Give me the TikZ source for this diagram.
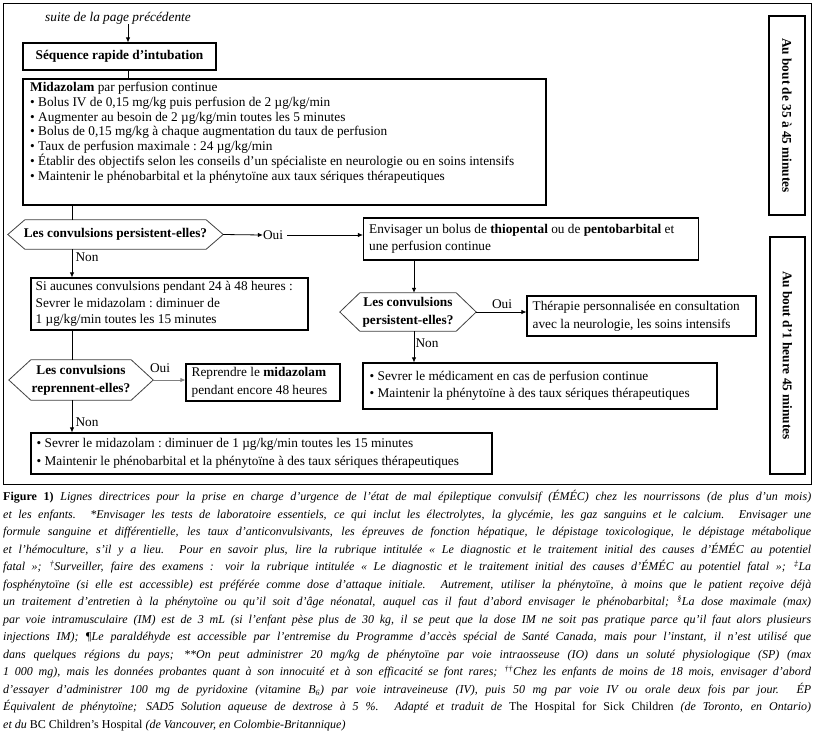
\documentclass[tikz,border=0pt]{standalone}
\usepackage{fontspec}
\setmainfont{Liberation Serif}
\usetikzlibrary{arrows.meta,calc}
\newcommand{\dgfont}[1]{\fontsize{13.3}{#1}\selectfont}
\newcommand{\hexdraw}[2]{\draw[hexline] (#1.west) -- ([xshift=#2]#1.north west) -- ([xshift=-#2]#1.north east) -- (#1.east) -- ([xshift=-#2]#1.south east) -- ([xshift=#2]#1.south west) -- cycle;}
\newcommand{\capline}[1]{\makebox[808pt][s]{#1}}
\begin{document}
\frenchspacing
\begin{tikzpicture}[x=1pt,y=-1pt,
  frame/.style={draw=black, line width=1.1pt, inner sep=0pt},
  txt/.style={inner sep=0pt, align=left, anchor=west},
  hexnode/.style={inner sep=0pt, align=center, font=\dgfont{18}\bfseries},
  hexline/.style={draw=black!75, line width=0.8pt},
  lbl/.style={inner sep=0pt, font=\dgfont{16}},
  ln/.style={draw=black, line width=0.8pt},
  arr/.style={ln, -{Latex[length=5pt,width=4.5pt]}},
  garr/.style={arr, draw=black!50}
]
\path[use as bounding box] (0,0) rectangle (816,740);
\draw[line width=1pt] (3,3) rectangle (811,484);

\coordinate (ax) at (128,0);
\coordinate (vx) at (72,0);
\coordinate (rx) at (414,0);

\node[inner sep=0pt, font=\dgfont{16}\itshape] (suite) at (118,18) {suite de la page précédente};
\node[frame, minimum width=193pt, minimum height=27pt, font=\dgfont{16}\bfseries] (seq) at (119.5,56.5) {Séquence rapide d’intubation};

\node[frame, minimum width=523pt, minimum height=126pt] (mid) at (284.5,142) {};
\node[txt, anchor=north west, font=\dgfont{14.8}] (midtxt) at (30,82) {\textbf{Midazolam} par perfusion continue\\
• Bolus IV de 0,15 mg/kg puis perfusion de 2 µg/kg/min\\
• Augmenter au besoin de 2 µg/kg/min toutes les 5 minutes\\
• Bolus de 0,15 mg/kg à chaque augmentation du taux de perfusion\\
• Taux de perfusion maximale : 24 µg/kg/min\\
• Établir des objectifs selon les conseils d’un spécialiste en neurologie ou en soins intensifs\\
• Maintenir le phénobarbital et la phénytoïne aux taux sériques thérapeutiques};

\node[hexnode, minimum width=215pt, minimum height=29pt] (h1) at (115.5,234.5) {Les convulsions persistent-elles?};
\hexdraw{h1}{17pt}
\node[lbl] (oui1) at (273,235) {Oui};
\node[lbl] (non1) at (87,257) {Non};

\node[frame, minimum width=335pt, minimum height=42pt] (env) at (531,239) {};
\node[txt, font=\dgfont{17}] (envt) at ([xshift=6pt]env.west) {Envisager un bolus de \textbf{thiopental} ou de \textbf{pentobarbital} et\\une perfusion continue};

\node[frame, minimum width=277pt, minimum height=52pt] (si) at (169.5,304) {};
\node[txt, font=\dgfont{16.5}] (sit) at ([xshift=5pt]si.west) {Si aucunes convulsions pendant 24 à 48 heures :\\Sevrer le midazolam : diminuer de\\1 µg/kg/min toutes les 15 minutes};

\node[hexnode, minimum width=144pt, minimum height=40pt] (h2) at (81,380) {Les convulsions\\reprennent-elles?};
\hexdraw{h2}{22pt}
\node[lbl] (oui2) at (160,368) {Oui};
\node[lbl] (non2) at (87,422) {Non};

\node[frame, minimum width=154pt, minimum height=37pt] (rep) at (263,382.5) {};
\node[txt, font=\dgfont{18}] (rept) at ([xshift=6pt]rep.west) {Reprendre le \textbf{midazolam}\\pendant encore 48 heures};

\node[frame, minimum width=461pt, minimum height=41pt] (final) at (261.5,453.5) {};
\node[txt, font=\dgfont{18}] (finalt) at ([xshift=6pt]final.west) {• Sevrer le midazolam : diminuer de 1 µg/kg/min toutes les 15 minutes\\• Maintenir le phénobarbital et la phénytoïne à des taux sériques thérapeutiques};

\node[hexnode, minimum width=136pt, minimum height=38pt] (h3) at (408,312) {Les convulsions\\persistent-elles?};
\hexdraw{h3}{20pt}
\node[lbl] (oui3) at (502,304) {Oui};
\node[lbl] (non3) at (427,343) {Non};

\node[frame, minimum width=229pt, minimum height=40pt] (ther) at (641.5,316) {};
\node[txt, font=\dgfont{18}] (thert) at ([xshift=6pt]ther.west) {Thérapie personnalisée en consultation\\avec la neurologie, les soins intensifs};

\node[frame, minimum width=354pt, minimum height=46pt] (sev) at (540,386) {};
\node[txt, font=\dgfont{17}] (sevt) at ([xshift=7pt]sev.west) {• Sevrer le médicament en cas de perfusion continue\\• Maintenir la phénytoïne à des taux sériques thérapeutiques};

\node[frame, minimum width=36pt, minimum height=199pt] (s1) at (787,115.5) {};
\node[rotate=-90, inner sep=0pt, font=\dgfont{16}\bfseries] (s1t) at (s1.center) {Au bout de 35 à 45 minutes};
\node[frame, minimum width=35pt, minimum height=237pt] (s2) at (787.5,355.5) {};
\node[rotate=-90, inner sep=0pt, font=\dgfont{16}\bfseries] (s2t) at (s2.center) {Au bout d’1 heure 45 minutes};

% connectors
\draw[arr] (suite.south -| ax) -- (seq.north -| ax);
\draw[ln] (seq.south -| ax) -- (mid.north -| ax);
\draw[ln] (mid.south -| vx) -- (h1.north -| vx);
\draw[arr] (h1.east) -- (oui1.west);
\draw[arr] ([xshift=4pt]oui1.east) -- (oui1.east -| env.west);
\draw[arr] (h1.south -| vx) -- (si.north -| vx);
\draw[ln] (si.south -| vx) -- (h2.north -| vx);
\draw[garr] (h2.east) -- (h2.east -| rep.west);
\draw[arr] (h2.south -| vx) -- (final.north -| vx);
\draw[arr] (env.south -| rx) -- (h3.north -| rx);
\draw[arr] (h3.east) -- (h3.east -| ther.west);
\draw[arr] (h3.south -| rx) -- (sev.north -| rx);

% caption
\node[anchor=north west, inner sep=0pt, align=left, font=\fontsize{12}{17.54}\selectfont\itshape\nonfrenchspacing] (cap) at (3,490) {%
\capline{\textup{\textbf{Figure 1)}} Lignes directrices pour la prise en charge d’urgence de l’état de mal épileptique convulsif (ÉMÉC) chez les nourrissons (de plus d’un mois)}\\
\capline{et les enfants. *Envisager les tests de laboratoire essentiels, ce qui inclut les électrolytes, la glycémie, les gaz sanguins et le calcium. Envisager une}\\
\capline{formule sanguine et différentielle, les taux d’anticonvulsivants, les épreuves de fonction hépatique, le dépistage toxicologique, le dépistage métabolique}\\
\capline{et l’hémoculture, s’il y a lieu. Pour en savoir plus, lire la rubrique intitulée «~Le diagnostic et le traitement initial des causes d’ÉMÉC au potentiel}\\
\capline{fatal~»; \textsuperscript{†}Surveiller, faire des examens : voir la rubrique intitulée «~Le diagnostic et le traitement initial des causes d’ÉMÉC au potentiel fatal~»; \textsuperscript{‡}La}\\
\capline{fosphénytoïne (si elle est accessible) est préférée comme dose d’attaque initiale. Autrement, utiliser la phénytoïne, à moins que le patient reçoive déjà}\\
\capline{un traitement d’entretien à la phénytoïne ou qu’il soit d’âge néonatal, auquel cas il faut d’abord envisager le phénobarbital; \textsuperscript{§}La dose maximale (max)}\\
\capline{par voie intramusculaire (IM) est de 3 mL (si l’enfant pèse plus de 30 kg, il se peut que la dose IM ne soit pas pratique parce qu’il faut alors plusieurs}\\
\capline{injections IM); ¶Le paraldéhyde est accessible par l’entremise du Programme d’accès spécial de Santé Canada, mais pour l’instant, il n’est utilisé que}\\
\capline{dans quelques régions du pays; **On peut administrer 20 mg/kg de phénytoïne par voie intraosseuse (IO) dans un soluté physiologique (SP) (max}\\
\capline{1~000 mg), mais les données probantes quant à son innocuité et à son efficacité se font rares; \textsuperscript{††}Chez les enfants de moins de 18 mois, envisager d’abord}\\
\capline{d’essayer d’administrer 100 mg de pyridoxine (vitamine B\textsubscript{6}) par voie intraveineuse (IV), puis 50 mg par voie IV ou orale deux fois par jour. ÉP}\\
\capline{Équivalent de phénytoïne; SAD5 Solution aqueuse de dextrose à 5 \%. Adapté et traduit de \textup{The Hospital for Sick Children} (de Toronto, en Ontario)}\\
\makebox[808pt][l]{et du \textup{BC Children’s Hospital} (de Vancouver, en Colombie-Britannique)}};
\end{tikzpicture}
\end{document}
